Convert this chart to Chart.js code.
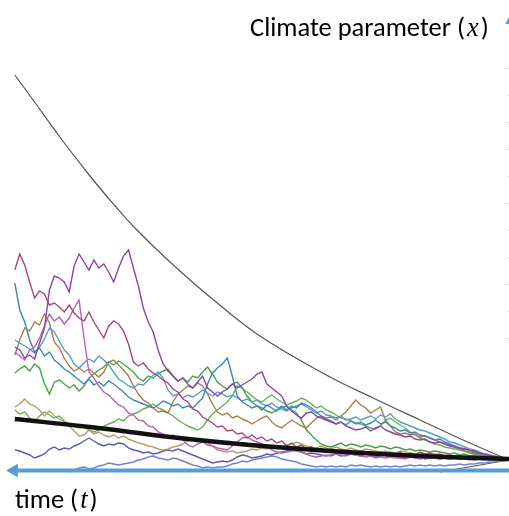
<!DOCTYPE html>
<html>
<head>
<meta charset="utf-8">
<script src="https://cdn.jsdelivr.net/npm/chart.js@4.4.1/dist/chart.umd.min.js"></script>
<style>
  html, body { margin: 0; padding: 0; background: #fff; }
  #wrap { position: relative; width: 509px; height: 516px; overflow: hidden; }
  #wrap canvas { position: absolute; left: 0; top: 0; }
  .label { position: absolute; font-family: Carlito, Lato, "Open Sans", sans-serif; font-size: 26.5px; line-height: 26px; color: #000; white-space: nowrap; }
  .label i { font-family: "Liberation Serif", serif; font-style: italic; padding: 0 2px; }
</style>
</head>
<body>
<div id="wrap">
  <canvas id="chart" width="509" height="516"></canvas>
  <div class="label" style="left:250px; top:14px;">Climate parameter (<i>x</i>)</div>
  <div class="label" style="left:15px; top:486px;">time (<i>t</i>)</div>
</div>
<script>
// Time grid: t = 100 at the left edge, t = 0 where all paths meet
const timeSteps = [
  100, 99, 98, 97, 96, 95, 94, 93, 92, 91,
  90, 89, 88, 87, 86, 85, 84, 83, 82, 81,
  80, 79, 78, 77, 76, 75, 74, 73, 72, 71,
  70, 69, 68, 67, 66, 65, 64, 63, 62, 61,
  60, 59, 58, 57, 56, 55, 54, 53, 52, 51,
  50, 49, 48, 47, 46, 45, 44, 43, 42, 41,
  40, 39, 38, 37, 36, 35, 34, 33, 32, 31,
  30, 29, 28, 27, 26, 25, 24, 23, 22, 21,
  20, 19, 18, 17, 16, 15, 14, 13, 12, 11,
  10, 9, 8, 7, 6, 5, 4, 3, 2, 1,
  0,
];

// Sample paths (climate parameter)
const pathPurple = [
  121, 118, 110, 113, 109, 125, 140, 178, 192, 190,
  186, 176, 202, 214, 206, 198, 208, 200, 204, 196,
  186, 200, 212, 218, 200, 182, 160, 146, 136, 118,
  104, 97, 92, 87, 90, 84, 80, 86, 92, 80,
  76, 72, 76, 79, 84, 80, 83, 86, 89, 94,
  96, 84, 80, 76, 72, 62, 57, 53, 50, 55,
  56, 52, 50, 48, 46, 44, 46, 42, 40, 38,
  39, 41, 37, 40, 42, 38, 36, 34, 33, 31,
  32, 29, 28, 29, 26, 25, 26, 24, 22, 21,
  20, 19, 18, 17, 15, 14, 13, 12, 11, 9,
  8,
];
const pathCrimson = [
  198, 214, 203, 186, 170, 177, 174, 163, 165, 161,
  156, 163, 155, 150, 147, 156, 146, 138, 130, 142,
  147, 144, 137, 124, 106, 102, 105, 99, 95, 92,
  88, 85, 79, 76, 69, 66, 59, 57, 51, 48,
  45, 41, 42, 37, 38, 34, 35, 30, 33, 29,
  31, 27, 29, 25, 27, 22, 25, 21, 23, 19,
  21, 17, 20, 16, 19, 15, 18, 14, 17, 15,
  17, 14, 16, 13, 16, 12, 15, 13, 16, 12,
  15, 13, 16, 14, 15, 13, 14, 12, 13, 11,
  12, 11, 12, 10, 11, 9, 10, 9, 9, 8,
  8,
];
const pathPink = [
  116, 112, 108, 118, 121, 130, 142, 154, 147, 151,
  144, 150, 160, 168, 130, 96, 90, 82, 76, 73,
  68, 63, 61, 55, 53, 48, 47, 42, 41, 36,
  34, 30, 33, 29, 28, 23, 21, 24, 26, 23,
  22, 20, 19, 18, 22, 26, 30, 31, 28, 26,
  24, 21, 18, 16, 15, 16, 17, 18, 16, 14,
  12, 11, 12, 13, 12, 14, 13, 12, 14, 13,
  12, 11, 12, 10, 11, 10, 11, 10, 10, 9,
  11, 10, 9, 10, 11, 10, 9, 10, 9, 10,
  9, 9, 8, 9, 9, 8, 9, 8, 8, 8,
  8,
];
const pathTeal = [
  185, 158, 146, 128, 116, 120, 112, 116, 108, 104,
  99, 96, 92, 88, 84, 89, 83, 86, 82, 87,
  84, 80, 76, 71, 68, 66, 64, 62, 60, 63,
  67, 65, 62, 64, 60, 62, 60, 65, 70, 84,
  95, 100, 104, 110, 92, 72, 66, 63, 60, 62,
  58, 63, 60, 57, 62, 58, 62, 60, 65, 63,
  60, 56, 52, 49, 47, 44, 46, 43, 47, 44,
  46, 43, 45, 48, 44, 46, 42, 40, 37, 38,
  35, 36, 33, 32, 30, 28, 29, 26, 24, 22,
  20, 19, 18, 16, 15, 13, 12, 11, 10, 9,
  8,
];
const pathBlue = [
  128, 125, 122, 119, 115, 121, 129, 140, 136, 127,
  118, 113, 104, 100, 105, 109, 106, 112, 108, 103,
  96, 89, 86, 82, 80, 84, 83, 88, 93, 96,
  90, 78, 72, 74, 70, 73, 71, 74, 78, 75,
  72, 76, 74, 71, 73, 70, 67, 69, 66, 68,
  64, 62, 65, 61, 59, 57, 60, 62, 64, 61,
  58, 55, 57, 53, 52, 50, 52, 48, 49, 51,
  48, 50, 52, 49, 53, 51, 54, 49, 46, 44,
  42, 40, 38, 37, 35, 33, 31, 29, 26, 25,
  23, 21, 19, 18, 16, 14, 13, 11, 10, 9,
  8,
];
const pathBrown = [
  113, 128, 140, 137, 146, 143, 154, 145, 126, 120,
  110, 102, 97, 100, 96, 99, 95, 91, 96, 106,
  108, 103, 98, 92, 82, 74, 68, 65, 60, 56,
  57, 55, 66, 74, 78, 82, 80, 85, 82, 74,
  64, 56, 53, 55, 50, 52, 49, 47, 44, 47,
  50, 52, 46, 42, 40, 44, 48, 45, 42, 40,
  45, 50, 52, 50, 51, 48, 52, 56, 62, 68,
  63, 60, 55, 58, 61, 48, 42, 36, 34, 35,
  33, 34, 31, 32, 30, 28, 26, 24, 23, 21,
  19, 17, 16, 15, 14, 12, 11, 10, 10, 9,
  8,
];
const pathTan = [
  61, 64, 69, 64, 62, 58, 52, 57, 52, 49,
  46, 42, 37, 32, 33, 38, 34, 36, 33, 31,
  33, 30, 32, 29, 27, 25, 24, 22, 21, 19,
  18, 19, 21, 22, 24, 27, 28, 26, 29, 25,
  22, 18, 17, 16, 17, 15, 16, 17, 19, 18,
  20, 19, 21, 22, 20, 23, 24, 26, 24, 22,
  21, 20, 22, 20, 19, 21, 19, 18, 20, 18,
  17, 19, 18, 17, 16, 17, 16, 15, 17, 16,
  15, 14, 15, 14, 13, 14, 13, 12, 13, 12,
  11, 12, 11, 10, 10, 9, 10, 9, 9, 8,
  8,
];
const pathGreen = [
  95, 99, 102, 97, 104, 100, 84, 74, 86, 88,
  84, 80, 83, 77, 82, 90, 94, 98, 101, 106,
  103, 107, 104, 100, 96, 90, 87, 92, 90, 94,
  97, 99, 92, 87, 90, 86, 92, 90, 96, 101,
  94, 86, 82, 79, 84, 86, 80, 72, 66, 62,
  60, 57, 55, 58, 60, 62, 58, 55, 48, 38,
  33, 28, 24, 22, 21, 23, 25, 22, 24, 23,
  21, 23, 22, 20, 22, 21, 19, 21, 20, 18,
  19, 17, 18, 17, 16, 17, 16, 15, 14, 15,
  13, 14, 12, 13, 12, 11, 10, 10, 9, 9,
  8,
];
const pathLightGreen = [
  58, 54, 56, 50, 47, 52, 56, 53, 50, 52,
  47, 44, 42, 40, 41, 38, 36, 38, 42, 44,
  46, 49, 47, 52, 54, 56, 59, 61, 64, 60,
  58, 55, 52, 48, 45, 42, 40, 38, 41, 48,
  54, 58, 62, 66, 72, 82, 80, 76, 72, 68,
  66, 70, 73, 69, 66, 63, 65, 67, 70, 68,
  64, 60, 62, 58, 56, 53, 50, 49, 47, 45,
  44, 42, 40, 39, 42, 48, 50, 46, 43, 40,
  36, 33, 30, 28, 26, 24, 23, 21, 20, 19,
  18, 17, 15, 14, 13, 12, 11, 10, 9, 9,
  8,
];
const pathViolet = [
  18, 17, 15, 13, 10, 12, 14, 19, 21, 18,
  20, 19, 22, 24, 27, 30, 27, 24, 22, 24,
  23, 25, 24, 20, 18, 17, 15, 16, 14, 15,
  17, 18, 17, 19, 17, 15, 13, 11, 9, 7,
  5, 6, 7, 6, 8, 11, 13, 12, 10, 11,
  12, 14, 13, 15, 16, 17, 18, 17, 16, 14,
  15, 14, 13, 12, 13, 14, 12, 13, 14, 13,
  12, 14, 13, 11, 12, 13, 11, 12, 10, 11,
  12, 10, 11, 9, 10, 11, 9, 10, 9, 10,
  9, 10, 9, 8, 9, 9, 8, 9, 8, 8,
  8,
];
const pathPaleBlue = [
  null, null, null, null, null, null, null, null, null, null,
  null, -4, -2, 0, 1, -1, 0, 2, 3, 5,
  4, 3, 4, 5, 6, 8, 9, 11, 12, 10,
  9, 8, 10, 9, 7, 5, 3, 2, 0, 1,
  0, 1, 1, 2, 4, 5, 7, 6, 8, 9,
  10, 11, 12, 11, 9, 8, 7, 6, 4, 3,
  2, 1, 2, 1, 2, 1, 2, 1, 3, 2,
  3, 2, 1, 2, 1, 2, 1, 2, 1, 2,
  3, 2, 3, 2, 3, 2, 3, 2, 3, 3,
  4, 3, 4, 4, 5, 5, 6, 6, 7, 7,
  8,
];

// Upper envelope (thin grey) and lower envelope
const envelopeT = [100, 96.3, 90.9, 84.8, 79.7, 75.7, 68.6, 60.5, 50.4, 36.2, 27.5, 18, 9.3, 0];
const envelopeV = [393, 368, 331, 292, 262, 240, 206, 171, 132, 91, 70, 48, 28, 8];
const lowerT = [14, 7, 0];
const lowerV = [-4, 2, 8];

// Mean path (thick black)
const meanT = [100, 84.8, 68.6, 52.4, 36.2, 18, 0];
const meanV = [49, 41, 31, 23, 17, 12, 9];

// Time axis (blue, arrow pointing left) and the cut-off vertical axis
const axisT = [0, 100];
const axisV = [-2.5, -2.5];
const arrowLeftT = [100.2];
const arrowUpT = [-0.6];
const arrowUpV = [448];
const vAxisT = [0.15, 0.15];
const vAxisV = [400, 105];

const colors = {
  purple: "#8b45aa",
  crimson: "#a9467d",
  pink: "#b763b9",
  teal: "#3a88b4",
  blue: "#5b9ccb",
  brown: "#a67e48",
  tan: "#b4a06a",
  green: "#4c9f48",
  lightGreen: "#68b15c",
  violet: "#5c5cb6",
  paleBlue: "#7485cb",
  axis: "#5b9bd5",
};

function toPoints(ts, vs) {
  return ts.map((t, k) => ({ x: t, y: vs[k] }));
}

function pathDataset(values, color) {
  return {
    data: toPoints(timeSteps, values),
    borderColor: color,
    borderWidth: 1.4,
    pointRadius: 0,
    tension: 0,
    order: 2,
  };
}

const datasets = [
  // axis + arrows on top
  {
    data: toPoints(axisT, axisV),
    borderColor: colors.axis,
    borderWidth: 4,
    pointRadius: 0,
    order: 0,
  },
  {
    data: toPoints(arrowLeftT, axisV),
    showLine: false,
    pointStyle: "triangle",
    rotation: -90,
    pointRadius: 7,
    backgroundColor: colors.axis,
    borderColor: colors.axis,
    borderWidth: 1,
    order: 0,
  },
  {
    data: toPoints(arrowUpT, arrowUpV),
    showLine: false,
    pointStyle: "triangle",
    rotation: 0,
    pointRadius: 7,
    backgroundColor: colors.axis,
    borderColor: colors.axis,
    borderWidth: 1,
    order: 0,
  },
  {
    data: toPoints(vAxisT, vAxisV),
    borderColor: "rgba(0,0,0,0.3)",
    borderWidth: 1,
    borderDash: [1, 26],
    pointRadius: 0,
    order: 0,
  },
  // mean path
  {
    data: toPoints(meanT, meanV),
    borderColor: "#111111",
    borderWidth: 4.5,
    pointRadius: 0,
    tension: 0.4,
    order: 1,
  },
  pathDataset(pathPurple, colors.purple),
  pathDataset(pathCrimson, colors.crimson),
  pathDataset(pathPink, colors.pink),
  pathDataset(pathTeal, colors.teal),
  pathDataset(pathBlue, colors.blue),
  pathDataset(pathBrown, colors.brown),
  pathDataset(pathTan, colors.tan),
  pathDataset(pathGreen, colors.green),
  pathDataset(pathLightGreen, colors.lightGreen),
  pathDataset(pathViolet, colors.violet),
  pathDataset(pathPaleBlue, colors.paleBlue),
  // envelopes
  {
    data: toPoints(envelopeT, envelopeV),
    borderColor: "#555555",
    borderWidth: 1.2,
    pointRadius: 0,
    tension: 0.4,
    order: 3,
  },
  {
    data: toPoints(lowerT, lowerV),
    borderColor: "#555555",
    borderWidth: 1.2,
    pointRadius: 0,
    tension: 0.4,
    order: 3,
  },
];

new Chart(document.getElementById("chart"), {
  type: "line",
  data: { datasets: datasets },
  options: {
    responsive: false,
    animation: false,
    layout: { padding: 0, autoPadding: false },
    plugins: {
      legend: { display: false },
      tooltip: { enabled: false },
    },
    scales: {
      x: { type: "linear", reverse: true, min: 0, max: 103, display: false },
      y: { type: "linear", min: -48, max: 468, display: false },
    },
  },
});
</script>
</body>
</html>
